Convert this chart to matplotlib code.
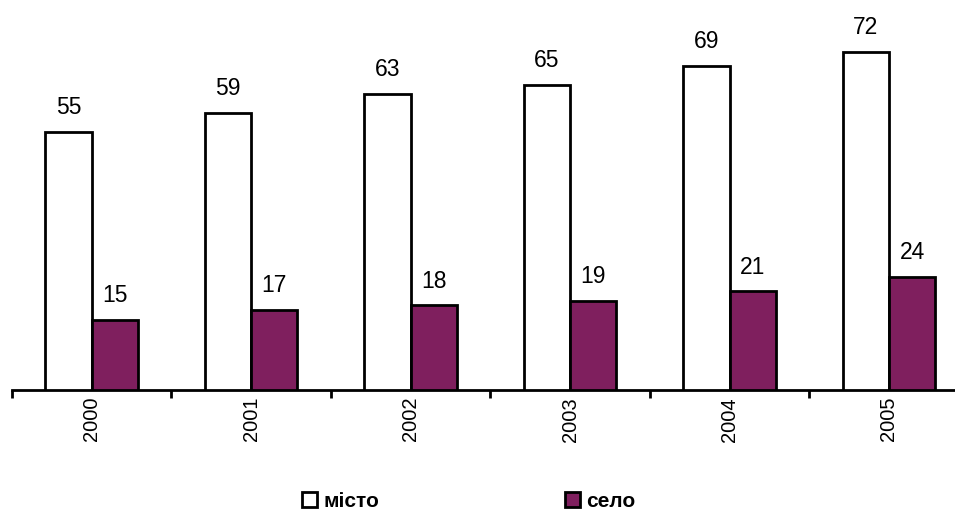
import matplotlib
matplotlib.use("Agg")
import matplotlib.pyplot as plt
import numpy as np
from matplotlib.patches import Patch

years = ["2000", "2001", "2002", "2003", "2004", "2005"]
misto = [55, 59, 63, 65, 69, 72]
selo = [15, 17, 18, 19, 21, 24]
series_names = ["місто", "село"]

plt.rcParams['font.family'] = ['Liberation Sans', 'DejaVu Sans']

fig = plt.figure(figsize=(9.55, 5.11), dpi=100)
ax = fig.add_axes([12/955, 121/511, 1 - 12/955, 390/511])

x = np.arange(len(years))
w = 0.29
purple = "#7f1f5e"
b1 = ax.bar(x - w/2, misto, w, color="white", edgecolor="black", linewidth=2.0, zorder=3)
b2 = ax.bar(x + w/2, selo, w, color=purple, edgecolor="black", linewidth=2.0, zorder=3)

for xi, v in zip(x, misto):
    ax.annotate(str(v), (xi - w/2, v), xytext=(0, 17.5), textcoords="offset points",
                ha="center", va="center", fontsize=16.5)
for xi, v in zip(x, selo):
    ax.annotate(str(v), (xi + w/2, v), xytext=(0, 17.5), textcoords="offset points",
                ha="center", va="center", fontsize=16.5)

ax.set_xlim(-0.5, 5.414)
ax.set_ylim(0, 83)
for s in ["top", "right", "left"]:
    ax.spines[s].set_visible(False)
ax.spines["bottom"].set_linewidth(2.0)
ax.set_yticks([])

ax.set_xticks(np.arange(-0.5, 5.5, 1.0))
ax.set_xticklabels([])
ax.tick_params(axis="x", which="major", length=6, width=2.0, direction="out")
ax.set_xticks(x, minor=True)
ax.set_xticklabels(years, minor=True, rotation=90, fontsize=14.5)
ax.tick_params(axis="x", which="minor", length=0, pad=5)

handles = [Patch(facecolor="white", edgecolor="black", linewidth=2.0),
           Patch(facecolor=purple, edgecolor="black", linewidth=2.0)]
fig.legend(handles, series_names, loc="center", bbox_to_anchor=(469/955, 1 - 501/511),
           ncol=2, frameon=False, handlelength=0.72, handleheight=0.72,
           handletextpad=0.3, columnspacing=8.9,
           prop={"weight": "bold", "size": 15})

fig.savefig("out.png", dpi=100)
